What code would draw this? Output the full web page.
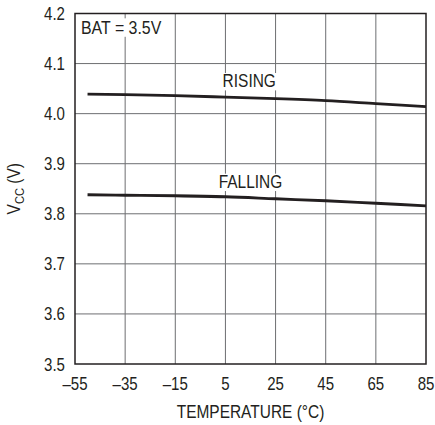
<!DOCTYPE html>
<html>
<head>
<meta charset="utf-8">
<script src="https://cdn.jsdelivr.net/npm/d3@7"></script>
<style>
  body { margin: 0; background: #fff; }
  text { font-family: "Liberation Sans", Arial, sans-serif; fill: #231f20; }
</style>
</head>
<body>
<div id="chart"></div>
<script>
// temperature (°C) where the curves were read
const temps = [-50, -35, -15, 5, 25, 45, 65, 85];
// VCC thresholds (V)
const rising = [4.039, 4.038, 4.036, 4.033, 4.030, 4.026, 4.020, 4.014];
const falling = [3.838, 3.837, 3.836, 3.834, 3.830, 3.826, 3.821, 3.816];

const xTicks = [-55, -35, -15, 5, 25, 45, 65, 85];
const xTickLabels = ["–55", "–35", "–15", "5", "25", "45", "65", "85"];
const yTicks = [3.5, 3.6, 3.7, 3.8, 3.9, 4.0, 4.1, 4.2];
const yTickLabels = ["3.5", "3.6", "3.7", "3.8", "3.9", "4.0", "4.1", "4.2"];

const width = 435;
const height = 425;
const margin = { top: 13.5, right: 9, bottom: 61, left: 75 };
const NARROW = 0.86; // the original uses a condensed face

const svg = d3
    .select("#chart")
    .append("svg")
    .attr("width", width)
    .attr("height", height);

const x = d3
    .scaleLinear()
    .domain([-55, 85])
    .range([margin.left, width - margin.right]);

const y = d3
    .scaleLinear()
    .domain([3.5, 4.2])
    .range([height - margin.bottom, margin.top]);

// condensed text helper
function label(sel, tx, ty, anchor, size, extra = "") {
    return sel
        .append("text")
        .attr("transform", `translate(${tx},${ty}) ${extra} scale(${NARROW},1)`)
        .attr("text-anchor", anchor)
        .attr("font-size", size);
}

// label with a white knock-out behind it (grid stops at the text)
function boxedLabel(tx, ty, anchor, size, str) {
    const g = svg.append("g");
    const bg = g.append("rect").attr("fill", "#fff");
    const t = label(g, tx, ty, anchor, size).text(str);
    const b = t.node().getBBox();
    const w = b.width * NARROW;
    const left = tx + b.x * NARROW;
    bg.attr("x", left - 2)
        .attr("y", ty + b.y + 2)
        .attr("width", w + 4)
        .attr("height", b.height - 3);
    return t;
}

// Grid
svg.append("g")
    .selectAll("line")
    .data(xTicks.slice(1, -1))
    .enter()
    .append("line")
    .attr("x1", (d) => x(d))
    .attr("x2", (d) => x(d))
    .attr("y1", y(3.5))
    .attr("y2", y(4.2))
    .attr("stroke", "#6d6e71")
    .attr("stroke-width", 1);

svg.append("g")
    .selectAll("line")
    .data(yTicks.slice(1, -1))
    .enter()
    .append("line")
    .attr("x1", x(-55))
    .attr("x2", x(85))
    .attr("y1", (d) => y(d))
    .attr("y2", (d) => y(d))
    .attr("stroke", "#6d6e71")
    .attr("stroke-width", 1);

// Frame
svg.append("rect")
    .attr("x", x(-55))
    .attr("y", y(4.2))
    .attr("width", x(85) - x(-55))
    .attr("height", y(3.5) - y(4.2))
    .attr("fill", "none")
    .attr("stroke", "#231f20")
    .attr("stroke-width", 1.5);

// Tick labels
xTicks.forEach((d, i) => {
    label(svg, x(d), y(3.5) + 26, "middle", 17.5).text(xTickLabels[i]);
});
yTicks.forEach((d, i) => {
    label(svg, x(-55) - 10, y(d) + 6.5, "end", 17.5).text(yTickLabels[i]);
});

// Curves
const line = d3
    .line()
    .x((d) => x(d[0]))
    .y((d) => y(d[1]))
    .curve(d3.curveMonotoneX);

[rising, falling].forEach((series) => {
    svg.append("path")
        .datum(temps.map((t, i) => [t, series[i]]))
        .attr("d", line)
        .attr("fill", "none")
        .attr("stroke", "#231f20")
        .attr("stroke-width", 2.8);
});

// Curve labels
boxedLabel(x(14.5), y(4.053), "middle", 18, "RISING");
boxedLabel(x(15), y(3.852), "middle", 18, "FALLING");
boxedLabel(x(-55) + 6, y(4.2) + 20, "start", 18.5, "BAT = 3.5V");

// Axis titles
label(svg, (x(-55) + x(85)) / 2, height - 7, "middle", 18).text("TEMPERATURE (°C)");

const yTitle = label(svg, 20, (y(3.5) + y(4.2)) / 2, "middle", 18, "rotate(-90)");
yTitle.append("tspan").text("V");
yTitle.append("tspan").attr("font-size", 13).attr("dy", 4).text("CC");
yTitle.append("tspan").attr("dy", -4).text(" (V)");
</script>
</body>
</html>
